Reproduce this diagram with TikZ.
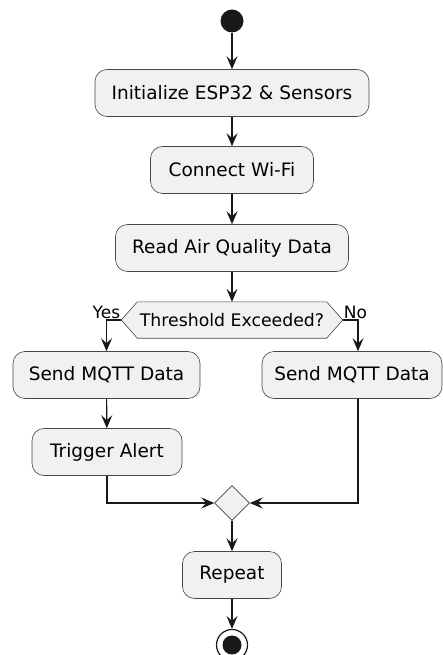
\documentclass[tikz,border=0pt]{standalone}
\usepackage{fontspec}
\setmainfont{DejaVu Sans}
\usetikzlibrary{arrows.meta,shapes.geometric}
\definecolor{boxfill}{HTML}{F1F1F1}
\definecolor{ink}{HTML}{181818}

\begin{document}
\begin{tikzpicture}[x=1pt,y=-1pt,font=\fontsize{18.5}{22}\selectfont,
act/.style={draw=ink!80, fill=boxfill, line width=0.6pt, rounded corners=12pt,
    minimum height=47pt, inner sep=0pt, anchor=center},
flow/.style={draw=ink, line width=1.1pt, -{Stealth[length=13pt,width=11pt,inset=5pt]}},
lbl/.style={font=\fontsize{17}{20}\selectfont, inner sep=1pt}]
\useasboundingbox (0,0) rectangle (443,655);
\fill[white] (0,0) rectangle (443,655);
% start and actions
\node[circle, fill=ink, minimum size=23pt, inner sep=0pt] (start) at (232,21) {};
\node[act, minimum width=274pt] (init) at (232,93) {Initialize ESP32 \& Sensors};
\node[act, minimum width=163pt] (wifi) at (232,170) {Connect Wi-Fi};
\node[act, minimum width=233pt] (read) at (232,248) {Read Air Quality Data};
% decision
\node[minimum width=221pt, minimum height=36pt, inner sep=0pt] (check) at (232,320) {};
\draw[draw=ink!80, fill=boxfill, line width=0.6pt] (check.west) -- ([xshift=16pt]check.north west)
  -- ([xshift=-16pt]check.north east) -- (check.east) -- ([xshift=-16pt]check.south east)
  -- ([xshift=16pt]check.south west) -- cycle;
\node[font=\fontsize{17.3}{20}\selectfont] (checktext) at (check) {Threshold Exceeded?};
\node[lbl, anchor=south east] (yes) at (check.west) {Yes};
\node[lbl, anchor=south west] (no) at (check.east) {No};
% branches
\node[act, minimum width=187pt] (sendyes) at (106.5,375) {Send MQTT Data};
\node[act, minimum width=180pt] (sendno) at (352,375) {Send MQTT Data};
\node[act, minimum width=150pt] (alert) at (107,452) {Trigger Alert};
\node[diamond, draw=ink!80, fill=boxfill, line width=0.6pt, minimum width=35pt,
      minimum height=35pt, inner sep=0pt] (merge) at (232,503) {};
\node[act, minimum width=99pt] (repeat) at (232,575) {Repeat};
% end
\node[circle, draw=ink, line width=1.2pt, minimum size=31pt, inner sep=0pt] (stop) at (232,645) {};
\node[circle, fill=ink, minimum size=19pt, inner sep=0pt] (stopdot) at (stop) {};
\coordinate (nojoin) at ([xshift=6pt]sendno.north);
\coordinate (noleave) at ([xshift=6pt]sendno.south);
% connectors
\draw[flow] (start) -- (init);
\draw[flow] (init) -- (wifi);
\draw[flow] (wifi) -- (read);
\draw[flow] (read) -- (check);
\draw[flow] (check.west) -| (sendyes.north);
\draw[flow] (check.east) -| (nojoin);
\draw[flow] (sendyes) -- (alert);
\draw[flow] (alert.south) |- (merge.west);
\draw[flow] (noleave) |- (merge.east);
\draw[flow] (merge) -- (repeat);
\draw[flow] (repeat) -- (stop);
\end{tikzpicture}
\end{document}
